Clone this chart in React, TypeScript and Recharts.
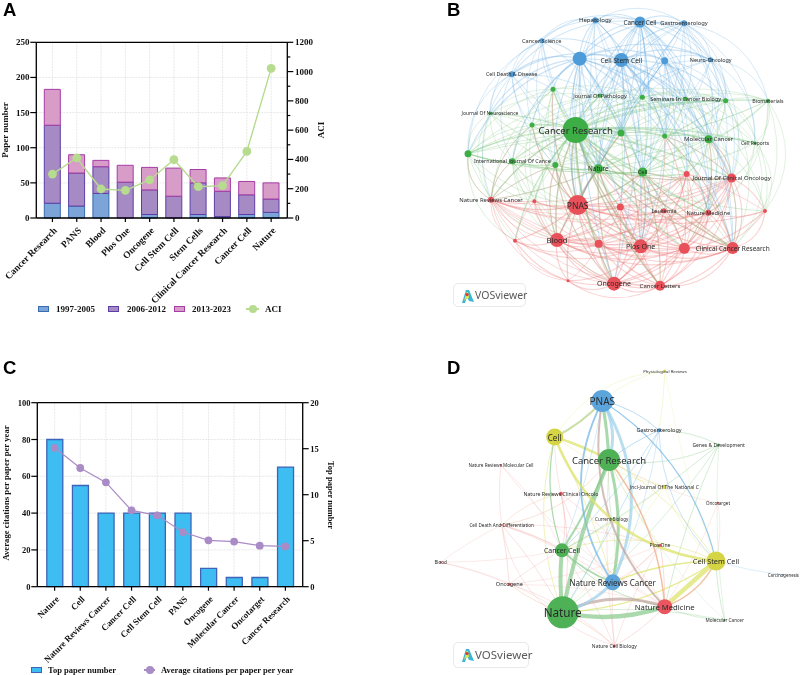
import React from "react";
import {
  Bar,
  CartesianGrid,
  ComposedChart,
  Legend,
  Line,
  ReferenceLine,
  Scatter,
  ScatterChart,
  XAxis,
  YAxis,
} from "recharts";

const SERIF = '"Liberation Serif", "Times New Roman", serif';
const SANS = '"Noto Sans", "Open Sans", sans-serif';

// Panel A
const A_JOURNALS = ["Cancer Research", "PANS", "Blood", "Plos One", "Oncogene", "Cell Stem Cell", "Stem Cells", "Clinical Cancer Research", "Cancer Cell", "Nature"];
const A_EARLY = [21, 17, 35, 0, 5, 0, 5, 2, 5, 8];
const A_MIDDLE = [111, 47, 38, 51, 35, 31, 45, 36, 28, 19];
const A_LATE = [51, 26, 9, 24, 32, 40, 19, 19, 19, 23];
const A_ACI = [300, 410, 198, 189, 260, 398, 214, 221, 455, 1022];
const A_LEFT_TICKS = [0, 50, 100, 150, 200, 250];
const A_RIGHT_TICKS = [0, 100, 200, 300, 400, 500, 600, 700, 800, 900, 1000, 1100, 1200];

// Panel C
const C_JOURNALS = ["Nature", "Cell", "Nature Reviews Cancer", "Cancer Cell", "Cell Stem Cell", "PANS", "Oncogene", "Molecular Cancer", "Oncotarget", "Cancer Research"];
const C_TOP_PAPERS = [16, 11, 8, 8, 8, 8, 2, 1, 1, 13];
const C_AVG_CITATIONS = [75.5, 64.5, 56.7, 41.5, 38.8, 29.7, 25.2, 24.5, 22.3, 21.9];
const C_LEFT_TICKS = [0, 20, 40, 60, 80, 100];
const C_RIGHT_TICKS = [0, 5, 10, 15, 20];

const A_ROWS = A_JOURNALS.map((name, i) => ({ name, early: A_EARLY[i], middle: A_MIDDLE[i], late: A_LATE[i], aci: A_ACI[i] }));
const C_ROWS = C_JOURNALS.map((name, i) => ({ name, top: C_TOP_PAPERS[i], avg: C_AVG_CITATIONS[i] }));

// Panel B network, layout
const B_BLUE = [
  { x: 466, y: 61, w: 3, name: "Hepatology", f: 6 },
  { x: 600, y: 66, w: 5.5, name: "Cancer Cell", f: 6.3 },
  { x: 732, y: 70, w: 3, name: "Gastroenterology", f: 5.8 },
  { x: 305, y: 122, w: 2.5, name: "Cancer Science", f: 5.6 },
  { x: 419, y: 176, w: 7, name: "", f: 0 },
  { x: 544, y: 180, w: 7, name: "Cell Stem Cell", f: 6.6 },
  { x: 674, y: 182, w: 3.5, name: "", f: 0 },
  { x: 812, y: 179, w: 2.5, name: "Neuro-Oncology", f: 5.4 },
  { x: 215, y: 223, w: 3, name: "Cell Death & Disease", f: 5.3 },
];
const B_GREEN = [
  { x: 339, y: 268, w: 2.5, name: "", f: 0 },
  { x: 480, y: 287, w: 2, name: "Journal Of Pathology", f: 5.5 },
  { x: 607, y: 292, w: 2.5, name: "", f: 0 },
  { x: 737, y: 296, w: 2, name: "Seminars In Cancer Biology", f: 5.5 },
  { x: 857, y: 302, w: 2.5, name: "", f: 0 },
  { x: 984, y: 302, w: 2, name: "Biomaterials", f: 5.3 },
  { x: 150, y: 340, w: 1.5, name: "Journal Of Neuroscience", f: 5 },
  { x: 276, y: 375, w: 2.5, name: "", f: 0 },
  { x: 407, y: 390, w: 13, name: "Cancer Research", f: 9.5 },
  { x: 543, y: 399, w: 3.5, name: "", f: 0 },
  { x: 674, y: 408, w: 2.5, name: "", f: 0 },
  { x: 806, y: 418, w: 4, name: "Molecular Cancer", f: 6 },
  { x: 945, y: 429, w: 1.5, name: "Cell Reports", f: 5 },
  { x: 84, y: 461, w: 3.5, name: "", f: 0 },
  { x: 217, y: 484, w: 3, name: "International Journal Of Cance", f: 5.4 },
  { x: 346, y: 495, w: 3, name: "", f: 0 },
  { x: 475, y: 506, w: 4.5, name: "Nature", f: 6.3 },
  { x: 608, y: 516, w: 4.5, name: "Cell", f: 5.8 },
];
const B_RED = [
  { x: 740, y: 522, w: 3, name: "", f: 0 },
  { x: 875, y: 534, w: 4.5, name: "Journal Of Clinical Oncology", f: 6 },
  { x: 153, y: 599, w: 3, name: "Nature Reviews Cancer", f: 5.9 },
  { x: 283, y: 604, w: 2, name: "", f: 0 },
  { x: 413, y: 615, w: 10, name: "PNAS", f: 8.5 },
  { x: 541, y: 621, w: 3.5, name: "", f: 0 },
  { x: 672, y: 632, w: 2.5, name: "Leukemia", f: 5.5 },
  { x: 805, y: 638, w: 3, name: "Nature Medicine", f: 5.6 },
  { x: 975, y: 633, w: 2, name: "", f: 0 },
  { x: 225, y: 722, w: 2, name: "", f: 0 },
  { x: 351, y: 720, w: 7, name: "Blood", f: 7.6 },
  { x: 476, y: 731, w: 4, name: "", f: 0 },
  { x: 602, y: 739, w: 7, name: "Plos One", f: 7 },
  { x: 733, y: 745, w: 5.5, name: "", f: 0 },
  { x: 878, y: 744, w: 6, name: "Clinical Cancer Research", f: 6.5 },
  { x: 384, y: 842, w: 1.5, name: "", f: 0 },
  { x: 522, y: 851, w: 7, name: "Oncogene", f: 7 },
  { x: 660, y: 857, w: 5, name: "Cancer Letters", f: 6 },
];
const B_NODES = [...B_BLUE, ...B_GREEN, ...B_RED];

const B_BLUE_LINKS: [number, number[]][] = [
  [4, [0, 1, 2, 3, 5, 6, 7, 8, 9, 10, 11, 12, 15, 16, 17, 18, 19, 20, 24, 25, 26, 31, 39, 43, 22, 23]],
  [5, [0, 1, 2, 3, 6, 7, 8, 10, 11, 12, 13, 17, 18, 19, 20, 25, 26, 28, 32, 34, 39, 41]],
  [1, [0, 2, 3, 6, 7, 8, 10, 11, 12, 13, 17, 18, 19, 20, 25, 26, 31, 34, 39, 43, 41, 27]],
  [2, [0, 6, 7, 10, 11, 12, 13, 14, 17, 19, 20, 25, 26, 31, 34, 28, 21]],
  [0, [3, 6, 7, 8, 10, 11, 17, 18, 19, 25, 26, 31]],
  [6, [7, 11, 12, 13, 17, 18, 19, 20, 25, 26, 27, 28, 31, 34, 33, 41, 39]],
  [7, [10, 11, 12, 13, 14, 17, 20, 21, 26, 34, 28]],
  [3, [8, 9, 10, 15, 16, 17, 25, 24, 22]],
  [8, [9, 15, 16, 17, 22, 23, 24, 25, 29, 10]],
];
const B_GREEN_LINKS: [number, number[]][] = [
  [17, [9, 10, 11, 12, 13, 14, 15, 16, 18, 19, 20, 21, 22, 23, 24, 25, 26, 27, 28, 29, 30, 31, 32, 33, 34, 36, 37, 38, 39, 40, 41, 43, 44]],
  [25, [9, 10, 11, 12, 13, 15, 16, 18, 19, 20, 22, 23, 24, 26, 27, 28, 29, 31, 32, 34, 37, 39, 41, 43, 35]],
  [26, [10, 11, 12, 13, 14, 16, 18, 19, 20, 21, 22, 23, 24, 27, 28, 31, 32, 33, 34, 39, 40, 41, 44]],
  [20, [10, 11, 12, 13, 14, 18, 19, 21, 24, 27, 28, 34, 41, 40, 35, 39]],
  [22, [9, 10, 15, 16, 18, 23, 24, 29, 30, 31, 36, 37, 12, 13, 19]],
  [23, [9, 10, 15, 16, 18, 24, 29, 30, 31, 37, 38, 39, 43]],
  [24, [9, 10, 15, 16, 18, 19, 29, 30, 31, 37, 38, 39, 43, 11]],
  [18, [9, 10, 11, 12, 13, 16, 19, 27, 31, 32, 39, 41, 34]],
  [19, [10, 11, 12, 13, 14, 21, 27, 28, 34, 41]],
  [16, [9, 10, 11, 15, 29, 30, 31, 37]],
  [13, [10, 11, 12, 14, 21, 27, 28, 41, 35]],
  [14, [11, 12, 21, 28, 34, 41, 35, 19]],
  [11, [9, 10, 12, 21, 27, 34]],
  [12, [10, 21, 27, 28, 34, 35]],
  [15, [9, 10, 29, 36]],
  [9, [10, 29, 31, 37]],
  [21, [28, 41, 35, 34]],
];
const B_RED_LINKS: [number, number[]][] = [
  [31, [27, 28, 29, 30, 32, 33, 34, 36, 37, 38, 39, 40, 41, 42, 43, 44, 35, 9, 16, 18, 24, 25, 26, 17]],
  [29, [27, 28, 30, 32, 33, 34, 36, 37, 38, 39, 40, 41, 42, 43, 44, 23, 22, 24, 17, 25, 16]],
  [37, [27, 28, 30, 32, 33, 34, 36, 38, 39, 40, 41, 42, 43, 44, 17, 25, 26, 24]],
  [39, [27, 28, 32, 33, 34, 35, 36, 38, 40, 41, 42, 43, 44, 17, 25, 26, 18, 19]],
  [43, [27, 28, 30, 32, 33, 34, 36, 38, 40, 41, 42, 44, 17, 25, 26, 24]],
  [41, [27, 28, 32, 33, 34, 35, 38, 40, 44, 17, 25, 26, 20, 19]],
  [40, [27, 28, 32, 33, 34, 35, 38, 44, 25, 26, 20, 19]],
  [44, [27, 28, 32, 33, 34, 38, 42, 17, 25, 26]],
  [28, [27, 32, 33, 34, 35, 38, 20, 26, 19, 25]],
  [34, [27, 32, 33, 35, 38]],
  [32, [27, 33, 38, 30]],
  [38, [30, 33, 36, 42, 27]],
  [27, [33, 35]],
  [36, [30, 42]],
];

// Panel D network
const D_NODES = [
  { x: 705, y: 47, w: 1.2, name: "Physiological Reviews", f: 4.3, c: "y" },
  { x: 517, y: 138, w: 11, name: "PNAS", f: 10, c: "b" },
  { x: 687, y: 226, w: 2, name: "Gastroenterology", f: 5.5, c: "b" },
  { x: 374, y: 246, w: 8.5, name: "Cell", f: 8, c: "y" },
  { x: 866, y: 269, w: 1.2, name: "Genes & Development", f: 5, c: "g" },
  { x: 537, y: 315, w: 11, name: "Cancer Research", f: 9.5, c: "g" },
  { x: 213, y: 330, w: 1, name: "Nature Reviews Molecular Cell", f: 4.6, c: "r" },
  { x: 703, y: 396, w: 2, name: "Jnci-Journal Of The National C", f: 5, c: "y" },
  { x: 393, y: 416, w: 2, name: "Nature Reviews Clinical Oncolo", f: 5.2, c: "r" },
  { x: 864, y: 444, w: 1, name: "Oncotarget", f: 4.5, c: "r" },
  { x: 545, y: 493, w: 1, name: "Current Biology", f: 4.5, c: "g" },
  { x: 215, y: 510, w: 1, name: "Cell Death And Differentiation", f: 4.6, c: "r" },
  { x: 690, y: 571, w: 1.5, name: "Plos One", f: 5, c: "r" },
  { x: 396, y: 586, w: 7, name: "Cancer Cell", f: 6.9, c: "g" },
  { x: 858, y: 618, w: 9.5, name: "Cell Stem Cell", f: 7.3, c: "y" },
  { x: 32, y: 622, w: 1, name: "Blood", f: 4.6, c: "r" },
  { x: 1060, y: 659, w: 1, name: "Carcinogenesis", f: 4.4, c: "b" },
  { x: 548, y: 682, w: 8, name: "Nature Reviews Cancer", f: 8, c: "b" },
  { x: 238, y: 688, w: 1.5, name: "Oncogene", f: 5.6, c: "r" },
  { x: 398, y: 772, w: 16, name: "Nature", f: 11.7, c: "g" },
  { x: 704, y: 755, w: 7.5, name: "Nature Medicine", f: 7.7, c: "r" },
  { x: 884, y: 795, w: 1, name: "Molecular Cancer", f: 4.7, c: "g" },
  { x: 553, y: 873, w: 1.5, name: "Nature Cell Biology", f: 5, c: "r" },
];

// from, to, colour key, width, bend
const D_LINKS: [number, number, string, number, number][] = [
  [6, 22, "r", 0.5, -0.4], [6, 20, "r", 0.4, -0.1], [6, 13, "r", 0.4, 0.1], [15, 19, "r", 0.4, 0.1], [15, 13, "r", 0.4, -0.05],
  [15, 11, "r", 0.4, 0.05], [15, 18, "r", 0.4, 0.05], [11, 18, "r", 0.6, 0.03], [11, 19, "r", 0.6, 0.06], [11, 13, "r", 0.6, 0.08],
  [11, 12, "r", 0.5, 0.08], [11, 5, "o", 0.7, -0.2], [11, 17, "r", 0.5, 0.08], [11, 20, "r", 0.4, 0.08], [8, 13, "r", 0.6, 0.12],
  [8, 19, "r", 0.6, 0.1], [8, 3, "r", 0.5, 0.06], [8, 20, "r", 0.5, 0.1], [8, 17, "r", 0.5, -0.1], [8, 11, "o", 0.6, -0.15],
  [18, 19, "o", 0.7, -0.08], [18, 13, "r", 0.5, 0.05], [18, 12, "r", 0.4, -0.08], [18, 20, "r", 0.4, 0.08], [18, 22, "r", 0.5, 0.12],
  [22, 19, "o", 0.7, -0.08], [22, 20, "r", 0.6, -0.08], [22, 13, "r", 0.5, -0.05], [22, 17, "r", 0.5, 0.04], [22, 12, "r", 0.5, 0.05], [22, 5, "r", 0.5, 0.05],
  [12, 20, "r", 0.7, 0.05], [12, 5, "y", 0.5, 0.05], [12, 17, "r", 0.5, 0.1], [12, 14, "y", 0.8, -0.1], [12, 19, "r", 0.5, 0.12],
  [9, 14, "r", 0.4, 0.1], [9, 5, "r", 0.4, 0.1], [9, 20, "r", 0.4, 0.05], [21, 20, "g", 0.7, 0.1], [21, 19, "g", 0.7, -0.08],
  [21, 5, "g", 0.4, 0.1], [16, 14, "b", 0.5, 0.05], [0, 2, "y", 0.6, 0.03], [0, 1, "y", 0.5, -0.14], [0, 3, "y", 0.5, -0.25],
  [0, 14, "y", 0.4, -0.05], [4, 5, "g", 0.8, 0.16], [4, 20, "g", 0.8, -0.05], [4, 13, "g", 0.8, 0.05], [4, 19, "g", 0.7, 0.08], [4, 21, "g", 0.5, -0.05],
  [2, 5, "b", 1, -0.06], [2, 13, "b", 0.8, 0.06], [2, 19, "b", 0.8, 0.03], [2, 17, "b", 0.6, 0.08], [2, 14, "b", 0.8, -0.2], [2, 4, "g", 0.8, 0.12], [1, 2, "b", 1, 0.14],
  [7, 5, "y", 0.6, 0.05], [7, 3, "y", 0.6, 0.1], [7, 14, "y", 0.6, -0.14], [7, 19, "y", 0.5, 0.05], [7, 13, "y", 0.5, 0.05],
  [10, 13, "g", 0.6, 0.05], [10, 5, "g", 0.7, 0.05], [10, 19, "g", 0.6, 0.05], [10, 17, "g", 0.5, 0.1],
  [3, 19, "y", 1, -0.17], [3, 13, "g", 1.2, -0.14], [3, 17, "y", 1, 0.05], [3, 5, "y", 2.5, 0.05], [3, 1, "l", 2, -0.1], [14, 17, "y", 1.5, -0.1],
  [14, 13, "y", 1, -0.2], [14, 1, "b", 1.2, -0.2], [14, 5, "y", 1, -0.12], [14, 21, "g", 0.8, -0.06], [14, 19, "y", 1.4, 0.14], [13, 20, "g", 1, -0.18],
  [13, 17, "g", 1.5, -0.1], [13, 1, "b", 0.6, -0.05], [13, 5, "g", 2, -0.05], [5, 17, "g", 3, 0.12], [1, 5, "g", 3, 0.03], [1, 5, "s", 3, 0.22],
  [1, 17, "b", 1.8, -0.29], [1, 17, "s", 3, 0.26], [1, 20, "m", 2, -0.25], [5, 20, "o", 1.5, 0.15], [19, 5, "g", 4, 0.05], [19, 13, "g", 4, 0.06],
  [19, 20, "g", 4.5, -0.14], [19, 20, "m", 3, 0.2], [19, 17, "s", 3, -0.15], [3, 14, "y", 2.6, -0.3], [14, 20, "y", 4.5, 0], [14, 20, "o", 1.5, 0.2],
];

const CLUSTER_FILL: Record<string, string> = { b: "#5ca4dc", g: "#4eb156", r: "#ea5560", y: "#d4d444" };
const LINK_STROKE: Record<string, string> = { b: "#6cb2e4", s: "#9cd0e8", g: "#86c98a", r: "#ee8a86", o: "#eda77b", y: "#dce264", l: "#b5d283", m: "#c0a49c" };

type TickProps = { x: number; y: number; payload: { value: number | string } };

const numberText = { fontFamily: SERIF, fontWeight: 700, fill: "#111" };

function LeftTick({ x, y, payload }: TickProps, size: number) {
  return (
    <g>
      <line x1={x} x2={x - 6} y1={y} y2={y} stroke="#000" strokeWidth={1.2} />
      <text x={x - 6.8} y={y} textAnchor="end" dominantBaseline="central" fontSize={size} {...numberText}>
        {payload.value}
      </text>
    </g>
  );
}

function RightTick({ x, y, payload }: TickProps, size: number, every: number) {
  const major = Number(payload.value) % every === 0;
  return (
    <g>
      <line x1={x} x2={x + (major ? 6 : 3)} y1={y} y2={y} stroke="#000" strokeWidth={1.2} />
      {major && (
        <text x={x + 7.6} y={y} textAnchor="start" dominantBaseline="central" fontSize={size} {...numberText}>
          {payload.value}
        </text>
      )}
    </g>
  );
}

function SlantTick({ x, y, payload }: TickProps, size: number) {
  const tx = x + 3;
  const ty = y + 11;
  return (
    <g>
      <line x1={x} x2={x} y1={y} y2={y + 4} stroke="#000" strokeWidth={1.2} />
      <text x={tx} y={ty} textAnchor="end" dominantBaseline="central" fontSize={size} transform={`rotate(-45 ${tx} ${ty})`} {...numberText}>
        {payload.value}
      </text>
    </g>
  );
}

function AxisTitle({ x, y, turn, size, children }: { x: number; y: number; turn: number; size: number; children: string }) {
  return (
    <div
      style={{
        position: "absolute",
        left: x,
        top: y,
        transform: `translate(-50%, -50%) rotate(${turn}deg)`,
        fontFamily: SERIF,
        fontWeight: 700,
        fontSize: size,
        whiteSpace: "nowrap",
        color: "#111",
      }}
    >
      {children}
    </div>
  );
}

function PanelLetter({ x, y, children }: { x: number; y: number; children: string }) {
  return (
    <div style={{ position: "absolute", left: x, top: y, fontFamily: '"Liberation Sans", Arial, sans-serif', fontWeight: 700, fontSize: 18.5, lineHeight: 0.8, color: "#000" }}>
      {children}
    </div>
  );
}

type KeyItem = { label: string; left: number; textLeft: number; width: number; fill: string; stroke?: string };

function KeyRow({ items, size }: { items: KeyItem[]; size: number }) {
  return (
    <div style={{ position: "relative", height: 20, width: 400 }}>
      {items.map((item) => (
        <React.Fragment key={item.label}>
          {item.stroke ? (
            <div style={{ position: "absolute", left: item.left, top: 7, width: item.width - 2, height: 4, background: item.fill, border: `1.2px solid ${item.stroke}` }} />
          ) : (
            <>
              <div style={{ position: "absolute", left: item.left, top: 9, width: item.width, height: 1.5, background: item.fill }} />
              <div style={{ position: "absolute", left: item.left + item.width / 2 - 4, top: 6, width: 8, height: 8, borderRadius: 4, background: item.fill }} />
            </>
          )}
          <span style={{ position: "absolute", left: item.textLeft, top: 10, transform: "translateY(-50%)", fontFamily: SERIF, fontWeight: 700, fontSize: size, whiteSpace: "nowrap", color: "#111" }}>
            {item.label}
          </span>
        </React.Fragment>
      ))}
    </div>
  );
}

const A_KEYS: KeyItem[] = [
  { label: "1997-2005", left: 38, textLeft: 56, width: 11, fill: "#7ba4d9", stroke: "#3a6ab0" },
  { label: "2006-2012", left: 108, textLeft: 127, width: 11, fill: "#a58ac4", stroke: "#5d3ea6" },
  { label: "2013-2023", left: 174, textLeft: 192, width: 11, fill: "#d79cc8", stroke: "#a63ca5" },
  { label: "ACI", left: 246, textLeft: 265, width: 13, fill: "#b7db8f" },
];
const C_KEYS: KeyItem[] = [
  { label: "Top paper number", left: 31, textLeft: 48, width: 11, fill: "#3dbdf2", stroke: "#3f63b8" },
  { label: "Average citations per paper per year", left: 144, textLeft: 161, width: 11, fill: "#a98bc6" },
];

function PanelA() {
  return (
    <div style={{ position: "absolute", left: 0, top: 0, width: 400, height: 330 }}>
      <ComposedChart width={400} height={330} data={A_ROWS} margin={{ top: 42.3, right: 0, bottom: 0, left: 0 }}>
        <CartesianGrid yAxisId="left" stroke="#dedede" strokeWidth={0.7} strokeDasharray="2 1" />
        <XAxis dataKey="name" height={112} interval={0} padding={{ left: 4, right: 4 }} tickLine={false} tickSize={0} tickMargin={0} axisLine={{ stroke: "#000", strokeWidth: 1.3 }} tick={(p: TickProps) => SlantTick(p, 9.5)} />
        <YAxis yAxisId="left" width={36.3} domain={[0, 250]} ticks={A_LEFT_TICKS} interval={0} tickLine={false} tickSize={0} tickMargin={0} axisLine={{ stroke: "#000", strokeWidth: 1.3 }} tick={(p: TickProps) => LeftTick(p, 9)} />
        <YAxis yAxisId="right" orientation="right" width={112.7} domain={[0, 1200]} ticks={A_RIGHT_TICKS} interval={0} tickLine={false} tickSize={0} tickMargin={0} axisLine={{ stroke: "#000", strokeWidth: 1.3 }} tick={(p: TickProps) => RightTick(p, 9, 200)} />
        <ReferenceLine yAxisId="left" y={250} stroke="#000" strokeWidth={1.3} />
        <Bar yAxisId="left" dataKey="early" stackId="papers" barSize={16} fill="#7ba4d9" stroke="#3a6ab0" strokeWidth={1} isAnimationActive={false} />
        <Bar yAxisId="left" dataKey="middle" stackId="papers" barSize={16} fill="#a58ac4" stroke="#5d3ea6" strokeWidth={1} isAnimationActive={false} />
        <Bar yAxisId="left" dataKey="late" stackId="papers" barSize={16} fill="#d79cc8" stroke="#a63ca5" strokeWidth={1} isAnimationActive={false} />
        <Line yAxisId="right" dataKey="aci" stroke="#b7db8f" strokeWidth={1.4} dot={{ r: 4.4, fill: "#b7db8f", stroke: "none" }} isAnimationActive={false} />
        <Legend layout="vertical" align="center" verticalAlign="middle" wrapperStyle={{ left: 0, top: 299, width: 400, height: 20 }} content={() => <KeyRow items={A_KEYS} size={9} />} />
      </ComposedChart>
      <AxisTitle x={4.5} y={130} turn={-90} size={9}>Paper number</AxisTitle>
      <AxisTitle x={320.5} y={130} turn={-90} size={9}>ACI</AxisTitle>
    </div>
  );
}

function PanelC() {
  return (
    <div style={{ position: "absolute", left: 0, top: 330, width: 400, height: 345 }}>
      <ComposedChart width={400} height={345} data={C_ROWS} margin={{ top: 72.7, right: 0, bottom: 0, left: 0 }}>
        <CartesianGrid yAxisId="left" stroke="#dedede" strokeWidth={0.7} strokeDasharray="2 1" />
        <XAxis dataKey="name" height={88.3} interval={0} padding={{ left: 4.5, right: 4.5 }} tickLine={false} tickSize={0} tickMargin={0} axisLine={{ stroke: "#000", strokeWidth: 1.3 }} tick={(p: TickProps) => SlantTick(p, 8.9)} />
        <YAxis yAxisId="left" width={37.3} domain={[0, 100]} ticks={C_LEFT_TICKS} interval={0} tickLine={false} tickSize={0} tickMargin={0} axisLine={{ stroke: "#000", strokeWidth: 1.3 }} tick={(p: TickProps) => LeftTick(p, 8.5)} />
        <YAxis yAxisId="right" orientation="right" width={97.3} domain={[0, 20]} ticks={C_RIGHT_TICKS} interval={0} tickLine={false} tickSize={0} tickMargin={0} axisLine={{ stroke: "#000", strokeWidth: 1.3 }} tick={(p: TickProps) => RightTick(p, 8.5, 5)} />
        <ReferenceLine yAxisId="left" y={100} stroke="#000" strokeWidth={1.3} />
        <Bar yAxisId="right" dataKey="top" barSize={16} fill="#3dbdf2" stroke="#3f63b8" strokeWidth={1.3} isAnimationActive={false} />
        <Line yAxisId="left" dataKey="avg" stroke="#a98bc6" strokeWidth={1.2} dot={{ r: 3.9, fill: "#a98bc6", stroke: "none" }} isAnimationActive={false} />
        <Legend layout="vertical" align="center" verticalAlign="middle" wrapperStyle={{ left: 0, top: 330, width: 400, height: 20 }} content={() => <KeyRow items={C_KEYS} size={8.5} />} />
      </ComposedChart>
      <AxisTitle x={6} y={163} turn={-90} size={8.7}>Average citations per paper per year</AxisTitle>
      <AxisTitle x={331} y={165} turn={90} size={8.5}>Top paper number</AxisTitle>
    </div>
  );
}

type Pt = { x: number; y: number };

// draws every (from, to) pair of a flat point list as one curved link
function linkPaths(points: Pt[], stroke: string, width: number, opacity: number, bend: number | null, cx: number, cy: number) {
  const paths: React.ReactElement[] = [];
  for (let i = 0; i + 1 < points.length; i += 2) {
    const a = points[i];
    const b = points[i + 1];
    const dx = b.x - a.x;
    const dy = b.y - a.y;
    const len = Math.hypot(dx, dy) || 1;
    const mx = (a.x + b.x) / 2;
    const my = (a.y + b.y) / 2;
    const nx = dy / len;
    const ny = -dx / len;
    let k = bend;
    if (k === null) {
      const away = (mx - cx) * nx + (my - cy) * ny;
      k = (away >= 0 ? 1 : -1) * (0.05 + 0.3 * Math.min(1, Math.abs(away) / 150));
    }
    const qx = mx + nx * len * k;
    const qy = my + ny * len * k;
    paths.push(<path key={i} d={`M${a.x},${a.y}Q${qx},${qy} ${b.x},${b.y}`} fill="none" stroke={stroke} strokeWidth={width} strokeOpacity={opacity} strokeLinecap="round" />);
  }
  return <g>{paths}</g>;
}

const noSymbol = () => <g />;

const nodeDot = (props: any) => <circle cx={props.cx} cy={props.cy} r={props.payload.w} fill={props.payload.fill} />;

const nodeLabel = (props: any) =>
  props.payload.name ? (
    <text x={props.cx} y={props.cy} textAnchor="middle" dominantBaseline="central" fontFamily={SANS} fontSize={props.payload.f} fill="#2b2b2b">
      {props.payload.name}
    </text>
  ) : (
    <g />
  );

function Badge({ x, y, w, h, size }: { x: number; y: number; w: number; h: number; size: number }) {
  return (
    <div style={{ position: "absolute", left: x, top: y, width: w, height: h, boxSizing: "border-box", border: "1px solid #e9e9e9", borderRadius: 5, background: "#fff" }}>
      <svg width={15} height={16} style={{ position: "absolute", left: 6, top: 4 }}>
        <path d="M2,15 L6,2 L9,2 L14,14 L9,13 L7,9 L5,15 Z" fill="#37b6d6" />
        <path d="M4,13 L6.5,4 L8,4 L9,10 L6,11 Z" fill="#e7dd4d" />
        <circle cx={7} cy={6.5} r={1.6} fill="#d9382f" />
      </svg>
      <span style={{ position: "absolute", left: 21, top: 0, height: h - 2, lineHeight: `${h - 2}px`, fontFamily: SANS, fontSize: size, color: "#5a5a5a", whiteSpace: "nowrap" }}>VOSviewer</span>
    </div>
  );
}

function hubSeries(links: [number, number[]][], stroke: string, boost: number) {
  return links.map(([hub, targets]) => (
    <Scatter
      key={`${stroke}-${hub}`}
      data={targets.flatMap((t) => [B_NODES[hub], B_NODES[t]])}
      shape={noSymbol}
      isAnimationActive={false}
      line={(p: any) => linkPaths(p.points, stroke, 0.8 + B_NODES[hub].w * 0.05, boost + B_NODES[hub].w * 0.01, null, 177, 150)}
    />
  ));
}

function PanelB() {
  const dots = [
    ...B_BLUE.map((n) => ({ ...n, fill: "#4d9bd8" })),
    ...B_GREEN.map((n) => ({ ...n, fill: "#3dae45" })),
    ...B_RED.map((n) => ({ ...n, fill: "#e8505a" })),
  ];
  return (
    <div style={{ position: "absolute", left: 440, top: 0, width: 360, height: 310 }}>
      <ScatterChart width={360} height={310} margin={{ top: 0, right: 0, bottom: 0, left: 0 }}>
        <XAxis type="number" dataKey="x" domain={[0, 1080]} hide />
        <YAxis type="number" dataKey="y" domain={[0, 930]} reversed hide />
        {hubSeries(B_RED_LINKS, "#f07f80", 0.3)}
        {hubSeries(B_GREEN_LINKS, "#7cc47c", 0.24)}
        {hubSeries(B_BLUE_LINKS, "#6aaee2", 0.26)}
        <Scatter data={dots} shape={nodeDot} isAnimationActive={false} />
        <Scatter data={dots} shape={nodeLabel} isAnimationActive={false} />
      </ScatterChart>
      <Badge x={13} y={283} w={73} h={24} size={10.5} />
    </div>
  );
}

function PanelD() {
  const dots = D_NODES.map((n) => ({ ...n, fill: CLUSTER_FILL[n.c] }));
  return (
    <div style={{ position: "absolute", left: 430, top: 355, width: 370, height: 320 }}>
      <ScatterChart width={370} height={320} margin={{ top: 0, right: 0, bottom: 0, left: 0 }}>
        <XAxis type="number" dataKey="x" domain={[0, 1110]} hide />
        <YAxis type="number" dataKey="y" domain={[0, 960]} reversed hide />
        {D_LINKS.map(([from, to, colour, width, bend], i) => (
          <Scatter
            key={i}
            data={[D_NODES[from], D_NODES[to]]}
            shape={noSymbol}
            isAnimationActive={false}
            line={(p: any) => linkPaths(p.points, LINK_STROKE[colour], width, width < 1.1 ? 0.45 : 0.7, bend, 0, 0)}
          />
        ))}
        <Scatter data={dots} shape={nodeDot} isAnimationActive={false} />
        <Scatter data={dots} shape={nodeLabel} isAnimationActive={false} />
      </ScatterChart>
      <Badge x={23} y={287} w={76} h={26} size={11.5} />
    </div>
  );
}

export default function App() {
  return (
    <div style={{ position: "absolute", left: 0, top: 0, width: 800, height: 675, background: "#fff", overflow: "hidden", filter: "blur(0.35px)" }}>
      <PanelA />
      <PanelC />
      <PanelB />
      <PanelD />
      <PanelLetter x={3} y={3}>A</PanelLetter>
      <PanelLetter x={447} y={3}>B</PanelLetter>
      <PanelLetter x={3} y={361.2}>C</PanelLetter>
      <PanelLetter x={447} y={361.2}>D</PanelLetter>
    </div>
  );
}
